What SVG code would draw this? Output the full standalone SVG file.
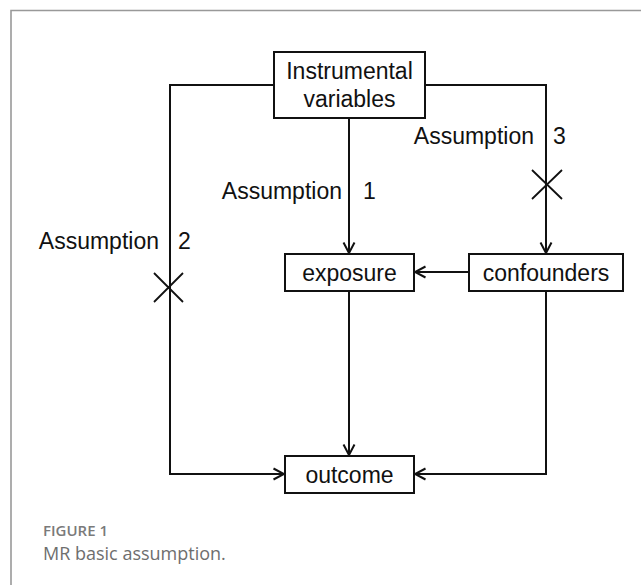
<svg xmlns="http://www.w3.org/2000/svg" width="641" height="585" viewBox="0 0 641 585">
  <defs>
    <style>
      .box { fill: #ffffff; stroke: #111111; stroke-width: 2; }
      .lbl { font-family: "Liberation Sans", Arial, sans-serif; font-size: 23px; fill: #111111; }
      .mid { text-anchor: middle; }
      .end { text-anchor: end; }
      .conn { fill: none; stroke: #111111; stroke-width: 2; }
      .cross { fill: none; stroke: #111111; stroke-width: 1.8; }
      .cap1 { font-family: "Open Sans", "Liberation Sans", sans-serif; font-size: 15px; font-weight: 600; fill: #7a7a7a; }
      .cap2 { font-family: "Open Sans", "Liberation Sans", sans-serif; font-size: 18px; font-weight: 400; fill: #6e6e6e; }
    </style>
    <marker id="arr" markerUnits="userSpaceOnUse" markerWidth="14" markerHeight="14" refX="12" refY="7" orient="auto">
      <path d="M1.5,1.5 L12,7 L1.5,12.5" fill="none" stroke="#111111" stroke-width="2"/>
    </marker>
  </defs>

  <rect width="641" height="585" fill="#ffffff"/>
  <path d="M641,10.5 H11 V585" fill="none" stroke="#999999" stroke-width="1.6"/>

  <g id="connectors">
    <path class="conn" d="M274,85 H170 V474 H284" marker-end="url(#arr)"/>
    <path class="conn" d="M425,85 H546 V253" marker-end="url(#arr)"/>
    <path class="conn" d="M349,118 V253" marker-end="url(#arr)"/>
    <path class="conn" d="M469,272 H415" marker-end="url(#arr)"/>
    <path class="conn" d="M349,291 V455" marker-end="url(#arr)"/>
    <path class="conn" d="M546,291 V474 H415" marker-end="url(#arr)"/>
    <path class="cross" d="M532,170 L562,199 M562,170 L532,199"/>
    <path class="cross" d="M154,273 L183,302 M183,273 L154,302"/>
  </g>

  <g id="labels">
    <text class="lbl end" x="342" y="199">Assumption</text>
    <text class="lbl" x="363" y="199">1</text>
    <text class="lbl end" x="534" y="144">Assumption</text>
    <text class="lbl" x="553" y="144">3</text>
    <text class="lbl end" x="159" y="249">Assumption</text>
    <text class="lbl" x="178" y="249">2</text>
  </g>

  <g id="instrumental-variables">
    <rect class="box" x="274" y="52" width="151" height="66"/>
    <text class="lbl mid" x="349.5" y="79">Instrumental</text>
    <text class="lbl mid" x="349.5" y="107">variables</text>
  </g>

  <g id="exposure">
    <rect class="box" x="285" y="254" width="129" height="37"/>
    <text class="lbl mid" x="349.5" y="281">exposure</text>
  </g>

  <g id="confounders">
    <rect class="box" x="469" y="254" width="154" height="37"/>
    <text class="lbl mid" x="546" y="281">confounders</text>
  </g>

  <g id="outcome">
    <rect class="box" x="285" y="456" width="129" height="37"/>
    <text class="lbl mid" x="349.5" y="483">outcome</text>
  </g>

  <g id="caption">
    <text class="cap1" x="43" y="536">FIGURE 1</text>
    <text class="cap2" x="43" y="560">MR basic assumption.</text>
  </g>
</svg>
